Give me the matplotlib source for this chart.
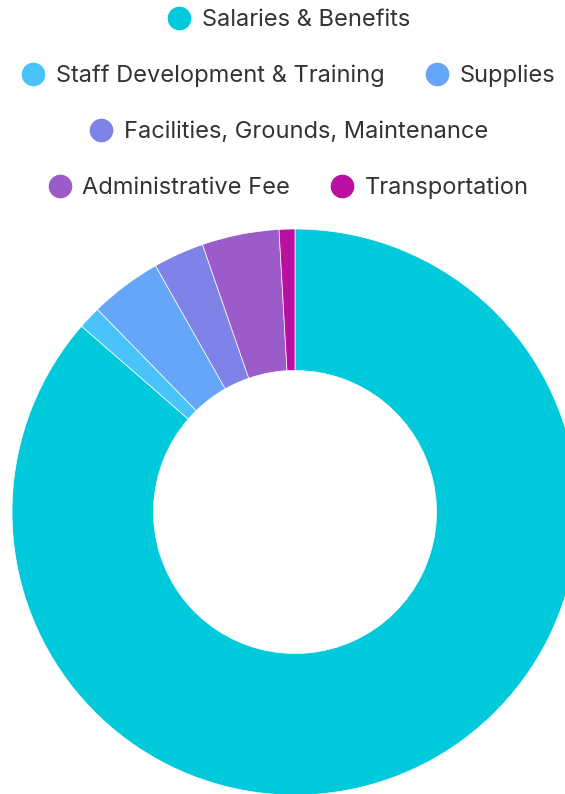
import matplotlib
matplotlib.use("Agg")
import matplotlib.pyplot as plt
from matplotlib.lines import Line2D

# Budget breakdown (percent of total)
categories = ["Salaries & Benefits", "Staff Development & Training", "Supplies",
              "Facilities, Grounds, Maintenance", "Administrative Fee", "Transportation"]
shares = [86.4, 1.3, 4.1, 2.9, 4.4, 0.9]
colors = ["#00C9DB", "#48C4FA", "#65A6F8", "#7F82E6", "#9B5BC9", "#BB109F"]

# legend rows, as indices into categories
legend_rows = [[0], [1, 2], [3], [4, 5]]
row_y = [20, 76, 132, 188]

W, H = 565, 794
fig = plt.figure(figsize=(W / 100, H / 100), dpi=100)
plt.rcParams['font.family'] = ['Inter', 'DejaVu Sans']

# donut: center (295, 512) px, outer radius 283 px
cx, cy, r = 295, 512, 283
ax = fig.add_axes([(cx - r) / W, (H - cy - r) / H, 2 * r / W, 2 * r / H])
ax.pie(shares, colors=colors, startangle=90, counterclock=False,
       wedgeprops=dict(width=0.5, edgecolor="white", linewidth=0.5))
ax.set_xlim(-1, 1)
ax.set_ylim(-1, 1)
ax.axis("off")

for row, y in zip(legend_rows, row_y):
    handles = [Line2D([], [], marker="o", linestyle="none", markersize=16,
                      markerfacecolor=colors[i], markeredgecolor=colors[i]) for i in row]
    labels = [categories[i] for i in row]
    fig.legend(handles, labels, loc="center", bbox_to_anchor=(288.5 / W, 1 - y / H),
               ncol=len(row), frameon=False, fontsize=17, labelcolor="#333333",
               handletextpad=0.47, columnspacing=1.7, handlelength=1.0,
               borderpad=0, borderaxespad=0)

fig.savefig("out.png", dpi=100)
